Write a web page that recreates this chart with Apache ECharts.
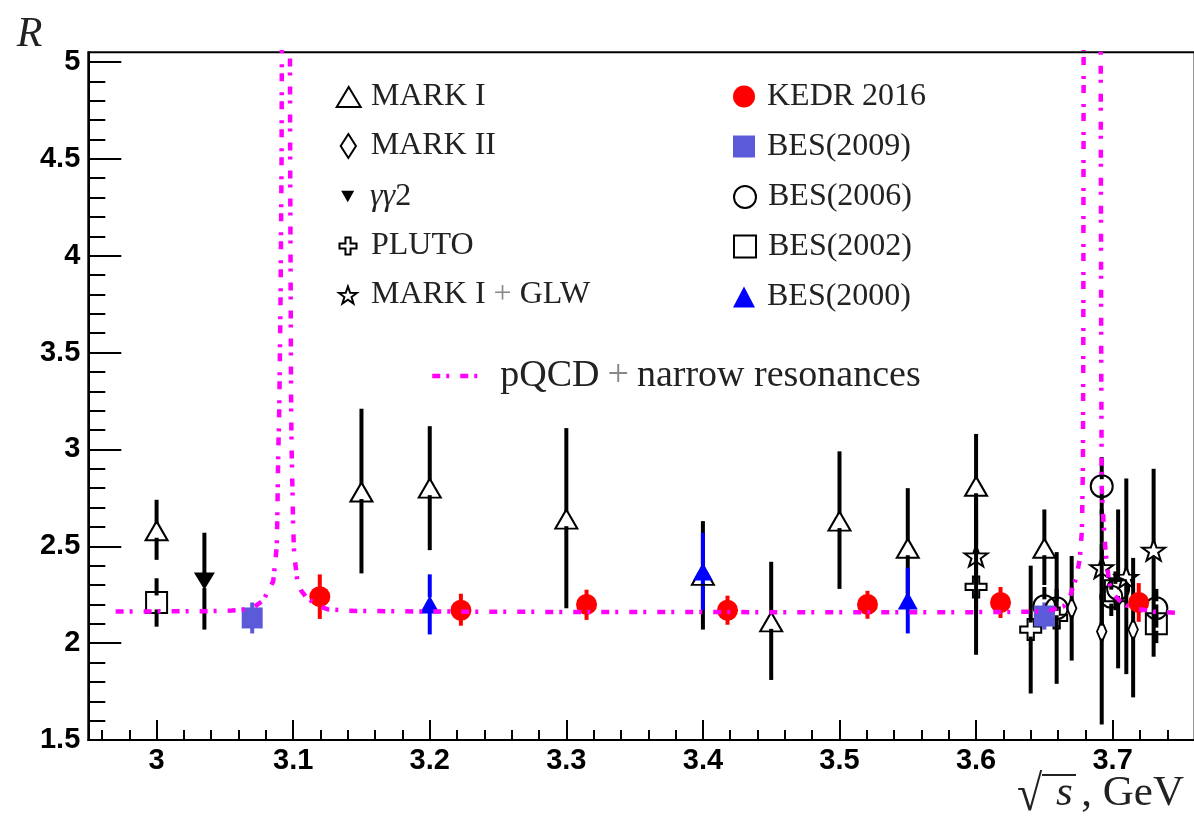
<!DOCTYPE html>
<html>
<head>
<meta charset="utf-8">
<script src="https://cdn.jsdelivr.net/npm/echarts@6/dist/echarts.min.js"></script>
<style>
  html, body { margin: 0; padding: 0; background: #fff; }
  #chart { width: 1194px; height: 819px; }
</style>
</head>
<body>
<div id="chart"></div>
<script>
// R ratio measurements vs sqrt(s) [GeV]; each point is [sqrt(s), R, error below, error above]
const markI = [
  [3.000, 2.58, 0.15, 0.16],
  [3.150, 2.78, 0.42, 0.43],
  [3.200, 2.80, 0.32, 0.32],
  [3.300, 2.64, 0.46, 0.47],
  [3.400, 2.35, 0.28, 0.28],
  [3.450, 2.11, 0.30, 0.31],
  [3.500, 2.63, 0.35, 0.36],
  [3.550, 2.49, 0.29, 0.31],
  [3.600, 2.81, 0.30, 0.27],
  [3.650, 2.49, 0.19, 0.20]
];
const markII = [
  [3.670, 2.18, 0.27, 0.27],
  [3.692, 2.06, 0.48, 0.45],
  [3.715, 2.07, 0.35, 0.37]
];
const gammaGamma2 = [
  [3.035, 2.32, 0.25, 0.25]
];
const pluto = [
  [3.600, 2.29, 0.35, 0.35],
  [3.640, 2.07, 0.33, 0.33],
  [3.659, 2.13, 0.34, 0.34]
];
const markIGlw = [
  [3.600, 2.45, 0.30, 0.30],
  [3.692, 2.39, 0.30, 0.30],
  [3.710, 2.34, 0.50, 0.51],
  [3.730, 2.48, 0.55, 0.42]
];
const kedr2016 = [
  [3.1195, 2.24, 0.115, 0.115],
  [3.2228, 2.17, 0.080, 0.085],
  [3.3148, 2.20, 0.080, 0.076],
  [3.4180, 2.17, 0.075, 0.075],
  [3.5205, 2.20, 0.074, 0.070],
  [3.6179, 2.21, 0.080, 0.080],
  [3.7191, 2.21, 0.100, 0.100]
];
const bes2009 = [
  [3.070, 2.13, 0.08, 0.08],
  [3.650, 2.14, 0.07, 0.07]
];
const bes2006 = [
  [3.650, 2.19, 0.10, 0.10],
  [3.659, 2.18, 0.10, 0.10],
  [3.692, 2.81, 0.15, 0.15],
  [3.699, 2.24, 0.10, 0.10],
  [3.704, 2.28, 0.41, 0.41],
  [3.732, 2.18, 0.10, 0.10]
];
const bes2002 = [
  [3.000, 2.21, 0.125, 0.125],
  [3.702, 2.27, 0.10, 0.10],
  [3.732, 2.10, 0.10, 0.10]
];
const bes2000 = [
  [3.200, 2.20, 0.155, 0.155],
  [3.400, 2.37, 0.20, 0.20],
  [3.550, 2.22, 0.17, 0.17]
];

// pQCD prediction with J/psi and psi(2S) peaks: [sqrt(s), R]
const pqcdCurve = [
  [2.970, 2.163], [3.000, 2.164], [3.040, 2.165], [3.055, 2.168], [3.065, 2.174],
  [3.070, 2.180], [3.078, 2.220], [3.0854, 2.320], [3.088, 2.500], [3.0885, 2.700],
  [3.0890, 2.950], [3.0898, 3.200], [3.0908, 3.800], [3.0915, 4.500], [3.0918, 5.300],
  [3.0976, 5.300], [3.0978, 4.500], [3.0985, 3.200], [3.0990, 2.950], [3.0996, 2.750],
  [3.1000, 2.600], [3.1007, 2.460], [3.1032, 2.315], [3.1060, 2.270], [3.1093, 2.240],
  [3.1171, 2.195], [3.1250, 2.175], [3.1400, 2.167], [3.2000, 2.163], [3.3000, 2.161],
  [3.4500, 2.160], [3.6000, 2.160], [3.6400, 2.162], [3.6550, 2.170], [3.6640, 2.190],
  [3.6680, 2.220], [3.6705, 2.280], [3.6735, 2.340], [3.6760, 2.440], [3.6775, 2.580],
  [3.6782, 2.900], [3.6785, 3.500], [3.6788, 5.300], [3.6912, 5.300], [3.6916, 3.500],
  [3.6920, 2.800], [3.6935, 2.600], [3.6950, 2.460], [3.6974, 2.310], [3.7003, 2.255],
  [3.7050, 2.220], [3.7100, 2.195], [3.7200, 2.175], [3.7300, 2.162], [3.7490, 2.156]
];

// Axis ticks and labels
const xMajorTicks = [3.0, 3.1, 3.2, 3.3, 3.4, 3.5, 3.6, 3.7];
const yMajorTicks = [1.5, 2.0, 2.5, 3.0, 3.5, 4.0, 4.5, 5.0];
const xMinorTicks = [];
for (let k = 296; k <= 374; k += 2) if (k % 10 !== 0) xMinorTicks.push(k / 100);
const yMinorTicks = [];
for (let k = 16; k <= 49; k++) if (k % 5 !== 0) yMinorTicks.push(k / 10);

// Marker shapes
const SYM = {
  diamond: 'path://M0,-11L7,0L0,11L-7,0Z',
  downTriangle: 'path://M-10,-9L10,-9L0,9Z',
  cross: 'path://M-3,-10L3,-10L3,-3L10,-3L10,3L3,3L3,10L-3,10L-3,3L-10,3L-10,-3L-3,-3Z',
  star: 'path://M0,-10L2.35,-3.24L9.51,-3.09L3.8,1.24L5.88,8.09L0,4L-5.88,8.09L-3.8,1.24L-9.51,-3.09L-2.35,-3.24Z'
};

const datasets = [
  { name: 'MARK I', data: markI, symbol: 'triangle', size: [22, 19], open: true, color: '#000' },
  { name: 'MARK II', data: markII, symbol: SYM.diamond, size: [15, 22], open: true, color: '#000' },
  { name: 'γγ2', data: gammaGamma2, symbol: SYM.downTriangle, size: [21, 19], open: false, color: '#000' },
  { name: 'PLUTO', data: pluto, symbol: SYM.cross, size: [21, 21], open: true, color: '#000' },
  { name: 'MARK I + GLW', data: markIGlw, symbol: SYM.star, size: [23, 22], open: true, color: '#000' },
  { name: 'BES(2006)', data: bes2006, symbol: 'circle', size: 22, open: true, color: '#000' },
  { name: 'BES(2002)', data: bes2002, symbol: 'rect', size: 21, open: true, color: '#000' },
  { name: 'BES(2000)', data: bes2000, symbol: 'triangle', size: [20, 18], open: false, color: '#0000ff' },
  { name: 'BES(2009)', data: bes2009, symbol: 'rect', size: 21, open: false, color: '#5b5bd9' },
  { name: 'KEDR 2016', data: kedr2016, symbol: 'circle', size: 21, open: false, color: '#ff0000' }
];

// Legend placement: icon centre, icon size, text start
const legendSpots = [
  { name: 'MARK I', cx: 347.7, cy: 96, w: 24, h: 20, tx: 370 },
  { name: 'MARK II', cx: 347.7, cy: 145, w: 16, h: 24, tx: 370 },
  { name: 'γγ2', cx: 347.7, cy: 195.5, w: 13, h: 12, tx: 370 },
  { name: 'PLUTO', cx: 347, cy: 245, w: 17, h: 17, tx: 370 },
  { name: 'MARK I + GLW', cx: 347, cy: 294, w: 18, h: 17, tx: 370 },
  { name: 'KEDR 2016', cx: 744, cy: 95.5, w: 22, h: 22, tx: 767 },
  { name: 'BES(2009)', cx: 744, cy: 145.5, w: 22, h: 22, tx: 767 },
  { name: 'BES(2006)', cx: 744, cy: 196, w: 22, h: 22, tx: 767 },
  { name: 'BES(2002)', cx: 744, cy: 245.5, w: 22, h: 22, tx: 767 },
  { name: 'BES(2000)', cx: 744, cy: 296, w: 22, h: 21, tx: 767 },
  { name: 'pQCD+narrow resonances', cx: 454, cy: 372, w: 48, h: 14, tx: 498 }
];

const SERIF = '"Liberation Serif", "Times New Roman", serif';
const SANS = '"Liberation Sans", Arial, Helvetica, sans-serif';

function errorBarRenderer(color) {
  return function (params, api) {
    const x = api.value(0), y = api.value(1);
    const lo = api.value(2), hi = api.value(3);
    const c = api.coord([x, y]);
    const top = api.coord([x, y + hi]);
    const bot = api.coord([x, y - lo]);
    const gap = 7;
    const style = { stroke: color, lineWidth: 4, lineCap: 'butt' };
    const children = [];
    if (top[1] < c[1] - gap) {
      children.push({ type: 'line', shape: { x1: c[0], y1: top[1], x2: c[0], y2: c[1] - gap }, style: style });
    }
    if (bot[1] > c[1] + gap) {
      children.push({ type: 'line', shape: { x1: c[0], y1: c[1] + gap, x2: c[0], y2: bot[1] }, style: style });
    }
    return { type: 'group', children: children };
  };
}

const series = [];
datasets.forEach(function (d, i) {
  series.push({
    type: 'custom',
    id: 'err-' + i,
    renderItem: errorBarRenderer(d.color),
    data: d.data,
    encode: { x: 0, y: 1 },
    z: 2,
    silent: true
  });
});
datasets.forEach(function (d) {
  series.push({
    type: 'scatter',
    name: d.name,
    data: d.data.map(function (p) { return [p[0], p[1]]; }),
    symbol: d.symbol,
    symbolSize: d.size,
    symbolKeepAspect: true,
    itemStyle: d.open
      ? { color: 'rgba(0,0,0,0)', borderColor: d.color, borderWidth: 2, opacity: 1 }
      : { color: d.color, borderWidth: 0, opacity: 1 },
    z: 3,
    silent: true
  });
});
const curveLine = { color: '#ff00ff', width: 4.5, type: [8, 6, 3, 11] };
series.push({
  type: 'line',
  name: 'pQCD+narrow resonances',
  data: pqcdCurve,
  showSymbol: false,
  symbol: 'none',
  clip: true,
  itemStyle: { color: '#ff00ff' },
  lineStyle: curveLine,
  z: 5,
  silent: true
});

const legends = legendSpots.map(function (s) {
  const lineH = 30;
  const left = s.cx - s.w / 2;
  const isCurve = s.name === 'pQCD+narrow resonances';
  const pad = s.tx - (left + s.w + 5);
  return {
    data: [s.name],
    selectedMode: false,
    orient: 'horizontal',
    padding: 0,
    left: left,
    top: s.cy - lineH / 2,
    itemWidth: s.w,
    itemHeight: s.h,
    symbolKeepAspect: true,
    itemStyle: isCurve ? { opacity: 0 } : {},
    lineStyle: isCurve ? Object.assign({ opacity: 1 }, curveLine) : {},
    formatter: function (name) {
      if (name === 'γγ2') return '{g|γγ}{t|2}';
      if (name === 'MARK I + GLW') return '{t|MARK I }{p|+}{t| GLW}';
      if (isCurve) return '{q|pQCD}{qp|+}{q|narrow resonances}';
      return '{t|' + name + '}';
    },
    textStyle: {
      rich: {
        t: { fontFamily: SERIF, fontSize: 32, color: '#222', lineHeight: lineH },
        g: { fontFamily: SERIF, fontStyle: 'italic', fontSize: 32, color: '#222', lineHeight: lineH },
        p: { fontFamily: SERIF, fontSize: 32, color: '#888', lineHeight: lineH },
        q: { fontFamily: SERIF, fontSize: 38, color: '#222', lineHeight: lineH },
        qp: { fontFamily: SERIF, fontSize: 38, color: '#888', lineHeight: lineH, padding: [0, 8, 0, 8] }
      },
      padding: [0, 0, 0, pad]
    }
  };
});

const X_MIN = 2.95, X_MAX = 3.76, Y_MIN = 1.5, Y_MAX = 5.05;
const tickLabel = { fontFamily: SANS, fontWeight: 'bold', fontSize: 29, color: '#000' };
const titleColor = '#222';

const option = {
  animation: false,
  backgroundColor: '#fff',
  grid: {
    left: 88.3, top: 52.3, width: 1106.3, height: 687.7,
    show: true, borderColor: '#000', borderWidth: 2, backgroundColor: 'transparent',
    containLabel: false,
    outerBoundsMode: 'none'
  },
  legend: legends,
  xAxis: [
    {
      type: 'value', min: X_MIN, max: X_MAX, position: 'bottom',
      axisLine: { show: true, onZero: false, lineStyle: { color: '#000', width: 2 } },
      axisTick: { show: true, inside: true, length: 20, customValues: xMajorTicks, lineStyle: { color: '#000', width: 2 } },
      axisLabel: Object.assign({ show: true, margin: 6, customValues: xMajorTicks }, tickLabel),
      splitLine: { show: false }
    },
    {
      type: 'value', min: X_MIN, max: X_MAX, position: 'bottom',
      axisLine: { show: false },
      axisTick: { show: true, inside: true, length: 10, customValues: xMinorTicks, lineStyle: { color: '#000', width: 2 } },
      axisLabel: { show: false },
      splitLine: { show: false }
    }
  ],
  yAxis: [
    {
      type: 'value', min: Y_MIN, max: Y_MAX, position: 'left',
      axisLine: { show: true, onZero: false, lineStyle: { color: '#000', width: 2 } },
      axisTick: { show: true, inside: true, length: 33, customValues: yMajorTicks, lineStyle: { color: '#000', width: 2 } },
      axisLabel: Object.assign({ show: true, margin: 8, customValues: yMajorTicks }, tickLabel),
      splitLine: { show: false },
      name: 'R',
      nameLocation: 'end',
      nameGap: -4,
      nameTextStyle: {
        fontFamily: SERIF, fontStyle: 'italic', fontSize: 42, color: titleColor,
        align: 'right', verticalAlign: 'bottom', padding: [0, 46, 0, 0]
      }
    },
    {
      type: 'value', min: Y_MIN, max: Y_MAX, position: 'left',
      axisLine: { show: false },
      axisTick: { show: true, inside: true, length: 17, customValues: yMinorTicks, lineStyle: { color: '#000', width: 2 } },
      axisLabel: { show: false },
      splitLine: { show: false }
    }
  ],
  // x-axis title: √s, GeV
  graphic: [
    {
      type: 'text', x: 1017, y: 797, scaleY: 1.1, z: 10,
      style: { text: '√', font: '46px ' + SERIF, fill: titleColor, align: 'left', verticalAlign: 'middle' }
    },
    {
      type: 'line', z: 10,
      shape: { x1: 1042, y1: 775, x2: 1076, y2: 775 },
      style: { stroke: titleColor, lineWidth: 2 }
    },
    {
      type: 'text', x: 1056, y: 793.5, z: 10,
      style: { text: 's', font: 'italic 43px ' + SERIF, fill: titleColor, align: 'left', verticalAlign: 'middle' }
    },
    {
      type: 'text', x: 1184, y: 793.5, z: 10,
      style: { text: ', GeV', font: '43px ' + SERIF, fill: titleColor, align: 'right', verticalAlign: 'middle' }
    }
  ],
  series: series
};

const chart = echarts.init(document.getElementById('chart'), null, { renderer: 'canvas' });
chart.setOption(option);
</script>
</body>
</html>
